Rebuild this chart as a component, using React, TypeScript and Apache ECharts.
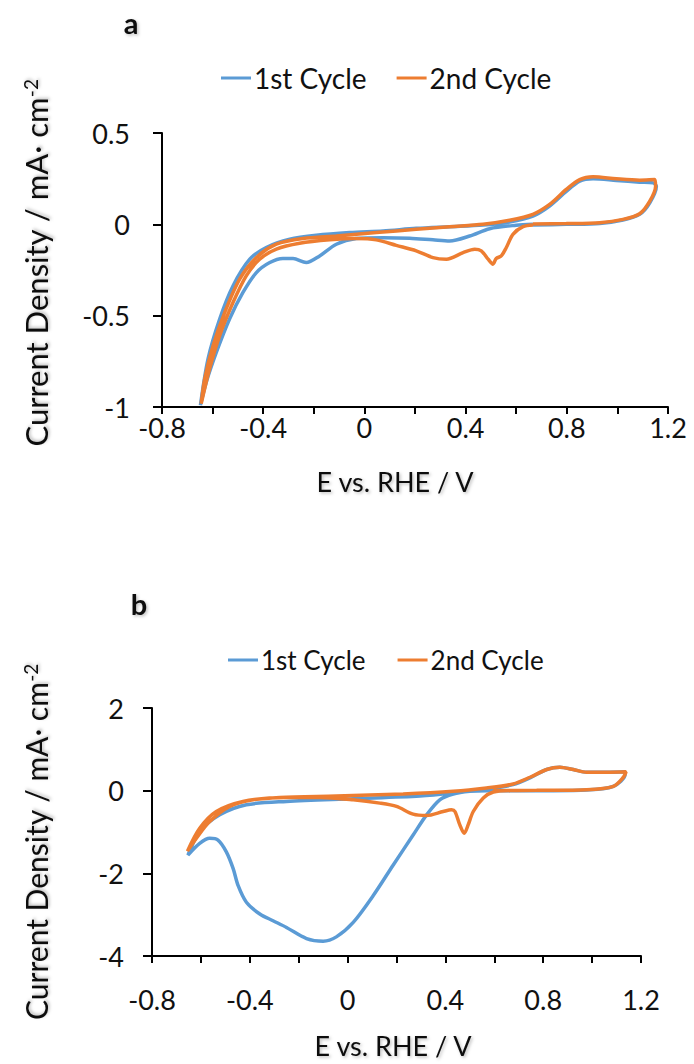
import React, { useEffect, useRef } from "react";
import * as echarts from "echarts";

// ---------- Data ----------
const seriesNames = ["1st Cycle", "2nd Cycle"];
const xTicks = { min: -0.8, max: 1.2, interval: 0.2 };
const yTicksA = { min: -1, max: 0.5, interval: 0.5 };
const yTicksB = { min: -4, max: 2, interval: 2 };

// Panel a, 1st cycle (E / V, j / mA cm-2), in sweep order
const panelA_cycle1: number[][] = [
  [0.666, 0], [0.6, -0.005], [0.495, -0.024], [0.416, -0.064], [0.337, -0.091],
  [0.271, -0.085], [0.179, -0.076], [0.074, -0.073], [-0.032, -0.078], [-0.111, -0.109],
  [-0.177, -0.173], [-0.23, -0.209], [-0.282, -0.187], [-0.322, -0.187], [-0.374, -0.209],
  [-0.427, -0.264], [-0.48, -0.373], [-0.533, -0.518], [-0.585, -0.7], [-0.625, -0.864],
  [-0.648, -0.99],
  [-0.618, -0.736], [-0.572, -0.518], [-0.519, -0.336], [-0.453, -0.191], [-0.388, -0.127],
  [-0.295, -0.082], [-0.19, -0.06], [-0.058, -0.045], [0.074, -0.036], [0.205, -0.022],
  [0.337, -0.013], [0.469, -0.004], [0.574, 0.013], [0.666, 0.045], [0.732, 0.1],
  [0.798, 0.18], [0.851, 0.236], [0.904, 0.249], [0.996, 0.24], [1.088, 0.231],
  [1.141, 0.227], [1.154, 0.209], [1.128, 0.118], [1.088, 0.055], [1.022, 0.024],
  [0.93, 0.005], [0.798, 0], [0.666, -0.004],
];

// Panel a, 2nd cycle
const panelA_cycle2: number[][] = [
  [0.666, -0.004], [0.627, -0.013], [0.587, -0.055], [0.561, -0.127], [0.541, -0.173],
  [0.521, -0.187], [0.508, -0.218], [0.489, -0.191], [0.462, -0.145], [0.436, -0.136],
  [0.39, -0.155], [0.324, -0.191], [0.271, -0.182], [0.205, -0.145], [0.126, -0.115],
  [0.047, -0.085], [-0.032, -0.078], [-0.137, -0.085], [-0.256, -0.104], [-0.348, -0.136],
  [-0.414, -0.191], [-0.467, -0.282], [-0.519, -0.427], [-0.572, -0.609], [-0.612, -0.791],
  [-0.645, -0.982],
  [-0.631, -0.845], [-0.598, -0.664], [-0.552, -0.482], [-0.493, -0.3], [-0.427, -0.182],
  [-0.348, -0.109], [-0.243, -0.078], [-0.111, -0.064], [0.047, -0.045], [0.205, -0.027],
  [0.337, -0.013], [0.469, 0], [0.574, 0.022], [0.666, 0.055], [0.732, 0.109],
  [0.798, 0.191], [0.851, 0.245], [0.904, 0.26], [0.996, 0.249], [1.088, 0.242],
  [1.147, 0.245], [1.151, 0.209], [1.128, 0.127], [1.088, 0.058], [1.022, 0.027],
  [0.93, 0.009], [0.798, 0.004], [0.666, 0.002],
];

// Panel b, 1st cycle
const panelB_cycle1: number[][] = [
  [0.664, 0], [0.568, 0], [0.5, -0.016], [0.432, -0.081], [0.377, -0.22],
  [0.323, -0.585], [0.268, -1.073], [0.186, -1.805], [0.105, -2.537], [0.023, -3.187],
  [-0.046, -3.537], [-0.1, -3.642], [-0.168, -3.577], [-0.25, -3.309], [-0.305, -3.146],
  [-0.359, -2.984], [-0.414, -2.699], [-0.448, -2.293], [-0.468, -1.886], [-0.496, -1.48],
  [-0.53, -1.195], [-0.564, -1.154], [-0.605, -1.276], [-0.653, -1.561],
  [-0.605, -0.992], [-0.523, -0.585], [-0.414, -0.341], [-0.25, -0.26], [0.023, -0.195],
  [0.296, -0.13], [0.432, -0.057], [0.568, 0.041], [0.677, 0.146], [0.746, 0.309],
  [0.814, 0.512], [0.868, 0.569], [0.923, 0.512], [0.978, 0.447], [1.073, 0.447],
  [1.135, 0.455], [1.135, 0.39], [1.087, 0.106], [0.978, 0.016], [0.841, 0], [0.664, 0],
];

// Panel b, 2nd cycle
const panelB_cycle2: number[][] = [
  [0.664, 0], [0.596, -0.033], [0.555, -0.179], [0.514, -0.504], [0.493, -0.829],
  [0.477, -1.033], [0.459, -0.829], [0.439, -0.504], [0.425, -0.463], [0.391, -0.504],
  [0.323, -0.602], [0.268, -0.569], [0.2, -0.382], [0.132, -0.301], [0.023, -0.22],
  [-0.114, -0.163], [-0.25, -0.163], [-0.387, -0.22], [-0.482, -0.382], [-0.564, -0.748],
  [-0.619, -1.154], [-0.655, -1.463],
  [-0.605, -0.911], [-0.537, -0.504], [-0.428, -0.26], [-0.277, -0.163], [-0.046, -0.13],
  [0.227, -0.081], [0.432, -0.016], [0.568, 0.065], [0.677, 0.163], [0.746, 0.325],
  [0.814, 0.512], [0.868, 0.569], [0.923, 0.512], [0.978, 0.447], [1.073, 0.447],
  [1.139, 0.455], [1.128, 0.325], [1.087, 0.106], [0.978, 0.024], [0.773, 0.008], [0.596, 0],
];

const colors = ["#5B9BD5", "#ED7D31"];
const FONT = "Lato";

function xLabel(v: number) {
  const k = Math.round(v * 10);
  if (Math.abs(k) % 4 !== 0) return "";
  return String(k / 10);
}

function makeXAxis(gridIndex: number, margin: number) {
  return {
    type: "value",
    gridIndex,
    min: xTicks.min,
    max: xTicks.max,
    interval: xTicks.interval,
    splitLine: { show: false },
    axisLine: { show: true, onZero: false, lineStyle: { color: "#000", width: 2 } },
    axisTick: { show: true, inside: false, length: 7, lineStyle: { color: "#000", width: 2 } },
    axisLabel: { formatter: xLabel, fontSize: 27, fontFamily: FONT, color: "#111", margin, showMinLabel: true, showMaxLabel: true },
  };
}

function makeYAxis(gridIndex: number, t: { min: number; max: number; interval: number }, margin: number) {
  return {
    type: "value",
    gridIndex,
    min: t.min,
    max: t.max,
    interval: t.interval,
    splitLine: { show: false },
    axisLine: { show: true, onZero: false, lineStyle: { color: "#000", width: 2 } },
    axisTick: { show: true, inside: false, length: 9, lineStyle: { color: "#000", width: 2 } },
    axisLabel: { fontSize: 27, fontFamily: FONT, color: "#111", margin },
  };
}

function makeSeries(name: string, data: number[][], idx: number, color: string, z: number) {
  return {
    type: "line",
    name,
    data,
    xAxisIndex: idx,
    yAxisIndex: idx,
    showSymbol: false,
    symbol: "none",
    smooth: 0.3,
    z,
    lineStyle: { color, width: 3.5 },
    itemStyle: { color },
  };
}

const shadow = { textShadowColor: "rgba(0,0,0,0.25)", textShadowBlur: 3, textShadowOffsetX: 1.5, textShadowOffsetY: 1.5 };

function yTitle(cx: number, cy: number, size: number) {
  return {
    type: "text",
    x: cx,
    y: cy,
    rotation: Math.PI / 2,
    style: {
      text: "Current Density / mA· cm{sup|-2}",
      font: `${size}px ${FONT}`,
      fill: "#111",
      align: "center",
      verticalAlign: "middle",
      rich: { sup: { fontSize: Math.round(size * 0.62), fontFamily: FONT, verticalAlign: "top", fill: "#111" } },
      ...shadow,
    },
  };
}

function xTitle(cx: number, cy: number) {
  return {
    type: "text",
    x: cx,
    y: cy,
    style: { text: "E vs. RHE / V", font: `27px ${FONT}`, fill: "#111", align: "center", verticalAlign: "middle", ...shadow },
  };
}

function panelLetter(t: string, cx: number, cy: number) {
  return {
    type: "text",
    x: cx,
    y: cy,
    style: { text: t, font: `bold 29px ${FONT}`, fill: "#111", align: "center", verticalAlign: "middle", ...shadow },
  };
}

export default function App() {
  const ref = useRef<HTMLDivElement>(null);
  useEffect(() => {
    if (!ref.current) return;
    const chart = echarts.init(ref.current, undefined, { renderer: "svg" });
    const legendBase = {
      data: seriesNames,
      icon: "rect",
      itemWidth: 30,
      itemHeight: 3,
      selectedMode: false,
    };
    chart.setOption({
      animation: false,
      backgroundColor: "#fff",
      color: colors,
      textStyle: { fontFamily: FONT },
      grid: [
        { left: 162, top: 133, width: 506, height: 274, containLabel: false },
        { left: 152, top: 708, width: 489, height: 248, containLabel: false },
      ],
      legend: [
        { ...legendBase, left: 216, top: 59, itemGap: 30, textStyle: { fontSize: 28, fontFamily: FONT, color: "#111", padding: [0, 0, 0, -2] } },
        { ...legendBase, left: 223, top: 642, itemGap: 32, textStyle: { fontSize: 26, fontFamily: FONT, color: "#111", padding: [0, 0, 0, -2] } },
      ],
      xAxis: [makeXAxis(0, 7), makeXAxis(1, 30)],
      yAxis: [makeYAxis(0, yTicksA, 32), makeYAxis(1, yTicksB, 28)],
      series: [
        makeSeries(seriesNames[0], panelA_cycle1, 0, colors[0], 2),
        makeSeries(seriesNames[1], panelA_cycle2, 0, colors[1], 3),
        makeSeries(seriesNames[0], panelB_cycle1, 1, colors[0], 2),
        makeSeries(seriesNames[1], panelB_cycle2, 1, colors[1], 3),
      ],
      graphic: [
        panelLetter("a", 131, 22),
        panelLetter("b", 139, 603),
        yTitle(36, 263, 31),
        yTitle(36, 842, 30),
        xTitle(395, 481),
        xTitle(393, 1045),
      ],
    });
    return () => chart.dispose();
  }, []);
  return <div ref={ref} style={{ position: "absolute", left: 0, top: 0, width: 694, height: 1064, background: "#fff" }} />;
}
